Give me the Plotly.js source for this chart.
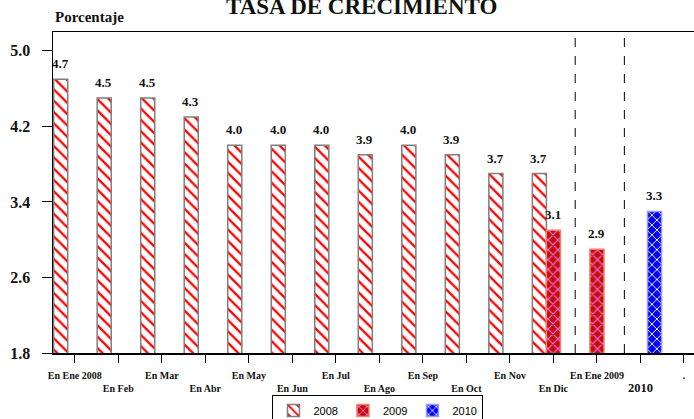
<!DOCTYPE html>
<html>
<head>
<meta charset="utf-8">
<script src="https://cdn.plot.ly/plotly-3.0.1.min.js"></script>
<style>html,body{margin:0;padding:0;background:#fff;}#chart{width:694px;height:419px;}</style>
</head>
<body>
<div id="chart"></div>
<script>
var categories = ["En Ene 2008","En Feb","En Mar","En Abr","En May","En Jun","En Jul","En Ago","En Sep","En Oct","En Nov","En Dic","En Ene 2009","2010","."];
var tickLabels = ["En Ene 2008","<br>En Feb","En Mar","<br>En Abr","En May","<br>En Jun","En Jul","<br>En Ago","En Sep","<br>En Oct","En Nov","<br>En Dic","En Ene 2009","<br><span style='font-size:12.5px'>2010</span>","."];
var values2008 = [4.7,4.5,4.5,4.3,4.0,4.0,4.0,3.9,4.0,3.9,3.7,3.7,null,null,null];
var values2009 = [null,null,null,null,null,null,null,null,null,null,null,3.1,2.9,null,null];
var values2010 = [null,null,null,null,null,null,null,null,null,null,null,null,null,3.3,null];
var yTicks = [1.8,2.6,3.4,4.2,5.0];

var idx = categories.map(function(_, i){ return i; });
var serif = "Liberation Serif";

function barTrace(name, vals, color, pattern, lineColor){
  return {
    type: "bar", name: name, x: idx, y: vals,
    marker: {color: color, pattern: pattern, line: {color: lineColor, width: 1.5}},
    hoverinfo: "skip"
  };
}

var data = [
  barTrace("2008", values2008, "#ffffff", {shape: "\\", fgcolor: "#ff0000", bgcolor: "#ffffff", size: 8, solidity: 0.28}, "#7f7f7f"),
  barTrace("2009", values2009, "#c01000", {shape: "x", fgcolor: "#ff66ff", bgcolor: "#c01000", size: 7, solidity: 0.3}, "#f08060"),
  barTrace("2010", values2010, "#0000ff", {shape: "x", fgcolor: "#ffffff", bgcolor: "#0000ff", size: 7, solidity: 0.25}, "#9999ff")
];

// value labels above the bars, positioned through the axes (grouped offsets in category units)
var seriesList = [values2008, values2009, values2010];
var offsets = [-1/3, 0, 1/3];
var valueAnnotations = [];
seriesList.forEach(function(vals, s){
  vals.forEach(function(v, i){
    if (v == null) return;
    valueAnnotations.push({
      text: v.toFixed(1), x: i + offsets[s], y: v, xref: "x", yref: "y",
      xanchor: "center", yanchor: "bottom", yshift: 6, showarrow: false,
      font: {family: serif, size: 13, color: "#111", weight: "bold"}
    });
  });
});

var layout = {
  width: 694, height: 419,
  margin: {l: 53, r: 0, t: 32, b: 66, autoexpand: false},
  paper_bgcolor: "#ffffff", plot_bgcolor: "#ffffff",
  barmode: "group", bargap: 0.03, bargroupgap: 0,
  showlegend: true,
  legend: {orientation: "h", x: 0.507, xanchor: "center", y: -0.131, yanchor: "top",
           bordercolor: "#000", borderwidth: 1, font: {family: "Liberation Sans", size: 11, color: "#000"},
           itemwidth: 30, tracegroupgap: 0, traceorder: "normal"},
  xaxis: {
    range: [-0.5, 14.23], tickmode: "array", tickvals: idx, ticktext: tickLabels,
    ticks: "outside", ticklen: 8, tickcolor: "#000", tickwidth: 1,
    ticklabelstandoff: 4,
    tickfont: {family: serif, size: 10, color: "#111", weight: "bold"},
    showline: true, linecolor: "#000", linewidth: 1.5, mirror: true,
    showgrid: false, zeroline: false, fixedrange: true, tickangle: 0
  },
  yaxis: {
    range: [1.8, 5.2], tickmode: "array", tickvals: yTicks, ticktext: yTicks.map(function(v){return v.toFixed(1);}),
    ticks: "outside", ticklen: 10, tickcolor: "#000", tickwidth: 1,
    ticklabelstandoff: 8,
    tickfont: {family: serif, size: 16, color: "#111", weight: "bold"},
    showline: true, linecolor: "#000", linewidth: 1.5, mirror: false,
    showgrid: false, zeroline: false, fixedrange: true
  },
  shapes: [
    {type: "line", xref: "x", yref: "paper", x0: 11.5, x1: 11.5, y0: 0, y1: 1, line: {color: "#000", width: 1, dash: "dash"}},
    {type: "line", xref: "x", yref: "paper", x0: 12.63, x1: 12.63, y0: 0, y1: 1, line: {color: "#000", width: 1, dash: "dash"}}
  ],
  annotations: [
    {text: "TASA DE CRECIMIENTO", xref: "paper", yref: "paper", x: 0.4805, y: 1.033, xanchor: "center", yanchor: "bottom",
     showarrow: false, font: {family: serif, size: 23, color: "#111", weight: "bold"}},
    {text: "Porcentaje", xref: "paper", yref: "paper", x: 0, y: 1.047, xanchor: "left", yanchor: "middle",
     showarrow: false, font: {family: serif, size: 15, color: "#111", weight: "bold"}}
  ].concat(valueAnnotations)
};

Plotly.newPlot("chart", data, layout, {displayModeBar: false, staticPlot: true});
</script>
</body>
</html>
